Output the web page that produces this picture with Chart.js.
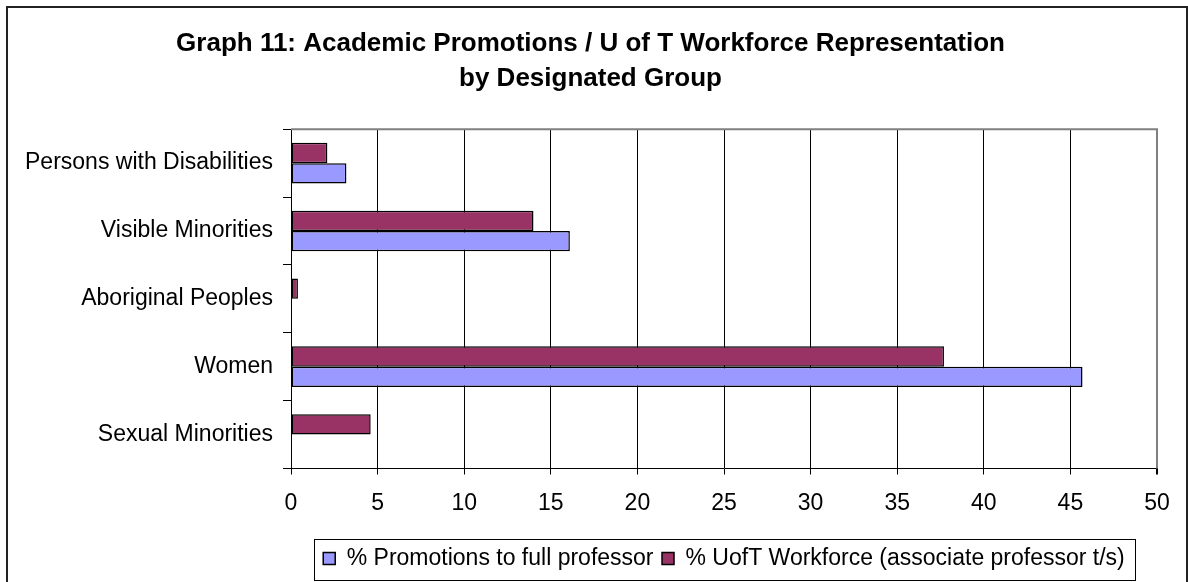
<!DOCTYPE html>
<html>
<head>
<meta charset="utf-8">
<title>Graph 11: Academic Promotions / U of T Workforce Representation</title>
<script src="https://cdn.jsdelivr.net/npm/chart.js@4.4.1/dist/chart.umd.min.js"></script>
<style>
    html, body { margin: 0; padding: 0; background: #fff; }
    #chartBox { width: 1188px; height: 582px; }
</style>
</head>
<body>
<div id="chartBox"><canvas id="groupChart" width="1188" height="582"></canvas></div>
<script>
    const categories = [
        'Persons with Disabilities',
        'Visible Minorities',
        'Aboriginal Peoples',
        'Women',
        'Sexual Minorities'
    ];
    const promotionsValues = [3.2, 16.1, null, 45.7, null];
    const workforceValues = [2.1, 14.0, 0.4, 37.7, 4.6];
    const seriesNames = ['% Promotions to full professor', '% UofT Workforce (associate professor t/s)'];
    const titleLines = ['Graph 11: Academic Promotions / U of T Workforce Representation', 'by Designated Group'];
    const xMin = 0;
    const xMax = 50;
    const xStep = 5;

    const FONT_FAMILY = '"Liberation Sans", Arial, sans-serif';

    // frame around the whole chart, the grey top/right plot edge and the legend box
    const decorations = {
        id: 'decorations',
        beforeDatasetsDraw(chart) {
            const { ctx, chartArea } = chart;
            ctx.save();
            ctx.strokeStyle = '#808080';
            ctx.lineWidth = 2;
            ctx.beginPath();
            ctx.moveTo(chartArea.left, chartArea.top);
            ctx.lineTo(chartArea.right, chartArea.top);
            ctx.lineTo(chartArea.right, chartArea.bottom);
            ctx.stroke();
            ctx.restore();
        },
        afterDraw(chart) {
            const { ctx } = chart;
            ctx.save();
            ctx.strokeStyle = '#222';
            ctx.lineWidth = 2;
            ctx.strokeRect(7, 7, 1180, 600);

            const legend = chart.legend;
            if (legend && legend.legendHitBoxes && legend.legendHitBoxes.length) {
                const boxes = legend.legendHitBoxes;
                const left = Math.min(...boxes.map(b => b.left)) - 9;
                const right = Math.max(...boxes.map(b => b.left + b.width)) + 10;
                ctx.strokeStyle = '#000';
                ctx.lineWidth = 1;
                ctx.strokeRect(Math.round(left) + 0.5, Math.round(legend.top) + 0.5,
                    Math.round(right - left), Math.round(legend.height) - 1);
            }
            ctx.restore();
        }
    };

    function createGroupChart(canvas) {
        return new Chart(canvas, {
            type: 'bar',
            data: {
                labels: categories,
                datasets: [
                    {
                        label: seriesNames[1],
                        data: workforceValues,
                        backgroundColor: '#993366',
                        borderColor: '#000',
                        borderWidth: 1.5,
                        borderSkipped: false
                    },
                    {
                        label: seriesNames[0],
                        data: promotionsValues,
                        backgroundColor: '#9999FF',
                        borderColor: '#000',
                        borderWidth: 1.5,
                        borderSkipped: false
                    }
                ]
            },
            options: {
                indexAxis: 'y',
                responsive: false,
                animation: false,
                datasets: {
                    bar: {
                        categoryPercentage: 0.6,
                        barPercentage: 1.0
                    }
                },
                layout: {
                    padding: { left: 24, right: 31, top: 0, bottom: 2 }
                },
                scales: {
                    x: {
                        min: xMin,
                        max: xMax,
                        afterFit: scale => { scale.height = 70; },
                        ticks: {
                            stepSize: xStep,
                            color: '#000',
                            padding: 15,
                            font: { family: FONT_FAMILY, size: 23 }
                        },
                        grid: {
                            color: ctx => (ctx.tick && ctx.tick.value === xMax ? '#808080' : '#000'),
                            lineWidth: ctx => (ctx.tick && ctx.tick.value === xMax ? 2 : 1),
                            tickColor: '#000',
                            tickLength: 6
                        },
                        border: { color: '#000', width: 1 }
                    },
                    y: {
                        afterFit: scale => { scale.width = 267; },
                        ticks: {
                            color: '#000',
                            padding: 10,
                            font: { family: FONT_FAMILY, size: 23 }
                        },
                        grid: {
                            drawOnChartArea: false,
                            color: '#000',
                            tickLength: 8
                        },
                        border: { color: '#000', width: 1 }
                    }
                },
                plugins: {
                    title: {
                        display: true,
                        text: titleLines,
                        color: '#000',
                        font: { family: FONT_FAMILY, size: 26, weight: 'bold', lineHeight: 1.35 },
                        padding: { top: 26, bottom: 33 }
                    },
                    legend: {
                        position: 'bottom',
                        fullSize: false,
                        reverse: true,
                        labels: {
                            color: '#000',
                            boxWidth: 12,
                            boxHeight: 12,
                            padding: 8.5,
                            font: { family: FONT_FAMILY, size: 23 }
                        }
                    },
                    tooltip: { enabled: false }
                }
            },
            plugins: [decorations]
        });
    }

    createGroupChart(document.getElementById('groupChart'));
</script>
</body>
</html>
